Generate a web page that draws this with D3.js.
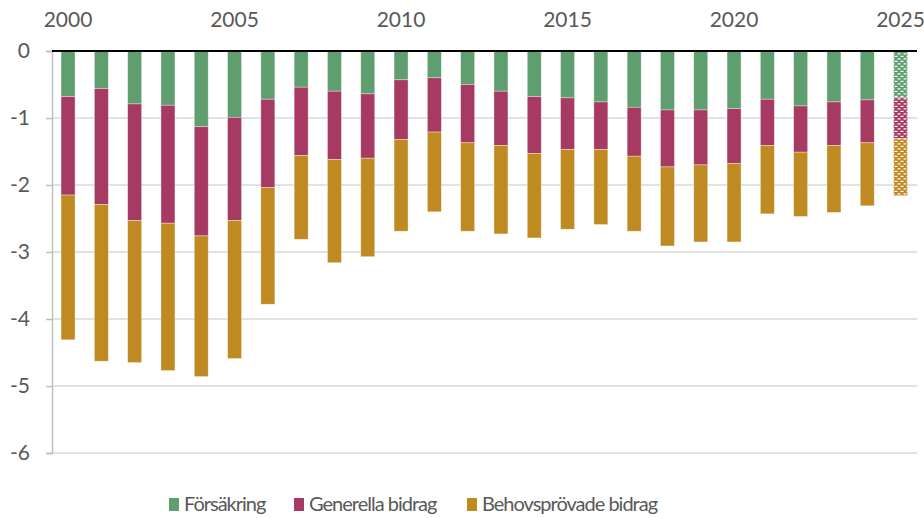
<!DOCTYPE html>
<html>
<head>
<meta charset="utf-8">
<script src="https://cdn.jsdelivr.net/npm/d3@7"></script>
<style>
  body { margin: 0; background: #fff; }
  text { font-family: Lato, "Open Sans", sans-serif; fill: #595959; }
</style>
</head>
<body>
<script>
// years on the x axis (2025 is a forecast, drawn with a pattern)
var years = d3.range(2000, 2026);
var yearTicks = [2000, 2005, 2010, 2015, 2020, 2025];
var yTicks = [0, -1, -2, -3, -4, -5, -6];

// segment sizes (all negative, stacked downwards)
var forsakring = [0.68, 0.56, 0.79, 0.81, 1.13, 0.99, 0.72, 0.54, 0.60, 0.64,
                  0.43, 0.40, 0.50, 0.60, 0.68, 0.70, 0.76, 0.84, 0.88, 0.88,
                  0.86, 0.72, 0.82, 0.76, 0.73, 0.70];
var generella = [1.47, 1.73, 1.74, 1.76, 1.63, 1.54, 1.32, 1.02, 1.02, 0.96,
                 0.89, 0.81, 0.87, 0.81, 0.85, 0.77, 0.71, 0.73, 0.85, 0.82,
                 0.82, 0.69, 0.69, 0.65, 0.64, 0.61];
var behovsprovade = [2.16, 2.34, 2.12, 2.20, 2.10, 2.06, 1.74, 1.25, 1.54, 1.47,
                     1.37, 1.19, 1.32, 1.32, 1.26, 1.19, 1.12, 1.12, 1.18, 1.15,
                     1.17, 1.02, 0.96, 1.00, 0.94, 0.85];

var seriesNames = ["Försäkring", "Generella bidrag", "Behovsprövade bidrag"];
var colors = ["#5f9e6e", "#a63a62", "#c08a22"];
var forecastYear = 2025;

var width = 924, height = 518;

var svg = d3.select("body").append("svg")
  .attr("width", width)
  .attr("height", height);

var x = d3.scaleBand()
  .domain(years)
  .range([51.4, 917.2])
  .paddingInner(0.58)
  .paddingOuter(0.29);

var y = d3.scaleLinear()
  .domain([-6, 0])
  .range([453, 51]);

// patterns for the forecast bar
var defs = svg.append("defs");
colors.forEach(function(c, i) {
  var p = defs.append("pattern")
    .attr("id", "pat" + i)
    .attr("patternUnits", "userSpaceOnUse")
    .attr("width", 6)
    .attr("height", 5);
  p.append("rect").attr("width", 6).attr("height", 5).attr("fill", c);
  p.append("rect").attr("x", 0.5).attr("y", 0.8).attr("width", 3).attr("height", 1.2).attr("fill", "#fff");
  p.append("rect").attr("x", 3.5).attr("y", 3.3).attr("width", 3).attr("height", 1.2).attr("fill", "#fff");
  p.append("rect").attr("x", -2.5).attr("y", 3.3).attr("width", 3).attr("height", 1.2).attr("fill", "#fff");
});

// gridlines
svg.append("g")
  .selectAll("line")
  .data(yTicks.filter(function(d) { return d !== 0; }))
  .enter()
  .append("line")
  .attr("x1", 52)
  .attr("x2", 917)
  .attr("y1", function(d) { return y(d); })
  .attr("y2", function(d) { return y(d); })
  .attr("stroke", "#d9d9d9")
  .attr("stroke-width", 1.5);

// stack data
var table = years.map(function(yr, i) {
  return { year: yr, s0: forsakring[i], s1: generella[i], s2: behovsprovade[i] };
});
var stack = d3.stack()
  .keys(["s0", "s1", "s2"])
  .value(function(d, k) { return -d[k]; })
  .offset(d3.stackOffsetDiverging);
var layers = stack(table);

svg.append("g")
  .selectAll("g")
  .data(layers)
  .enter()
  .append("g")
  .each(function(layer, li) {
    d3.select(this).selectAll("rect")
      .data(layer)
      .enter()
      .append("rect")
      .attr("x", function(d) { return x(d.data.year); })
      .attr("width", x.bandwidth())
      .attr("y", function(d) { return y(Math.max(d[0], d[1])); })
      .attr("height", function(d) { return Math.abs(y(d[1]) - y(d[0])); })
      .attr("fill", function(d) {
        return d.data.year === forecastYear ? "url(#pat" + li + ")" : colors[li];
      })
      .attr("stroke", "#fff")
      .attr("stroke-opacity", 0.5)
      .attr("stroke-width", 0.7);
  });

// y axis
var yAxis = svg.append("g")
  .attr("transform", "translate(52,0)")
  .call(d3.axisLeft(y).tickValues(yTicks).tickSize(6).tickFormat(function(d) { return String(d); }));
yAxis.select(".domain").attr("stroke", "#bfbfbf").attr("stroke-width", 1.5);
yAxis.selectAll(".tick line").attr("stroke", "#bfbfbf").attr("stroke-width", 1.5);
yAxis.selectAll(".tick text")
  .attr("x", -22)
  .style("font-size", "21px")
  .style("fill", "#595959")
  .style("font-family", "Lato, sans-serif");

// zero line
svg.append("line")
  .attr("x1", 52)
  .attr("x2", 917)
  .attr("y1", y(0))
  .attr("y2", y(0))
  .attr("stroke", "#000")
  .attr("stroke-width", 2);

// year labels at top
svg.append("g")
  .selectAll("text")
  .data(yearTicks)
  .enter()
  .append("text")
  .attr("x", function(d) { return x(d) + x.bandwidth() / 2; })
  .attr("y", 27)
  .attr("text-anchor", "middle")
  .style("font-size", "21px")
  .text(function(d) { return d; });

// legend
var legendX = [169, 294, 467];
var legend = svg.append("g")
  .selectAll("g")
  .data(seriesNames)
  .enter()
  .append("g")
  .attr("transform", function(d, i) { return "translate(" + legendX[i] + ",498)"; });
legend.append("rect")
  .attr("width", 10)
  .attr("height", 13)
  .attr("fill", function(d, i) { return colors[i]; });
legend.append("text")
  .attr("x", 15)
  .attr("y", 13)
  .style("font-size", "20px")
  .style("letter-spacing", "-1px")
  .text(function(d) { return d; });
</script>
</body>
</html>
